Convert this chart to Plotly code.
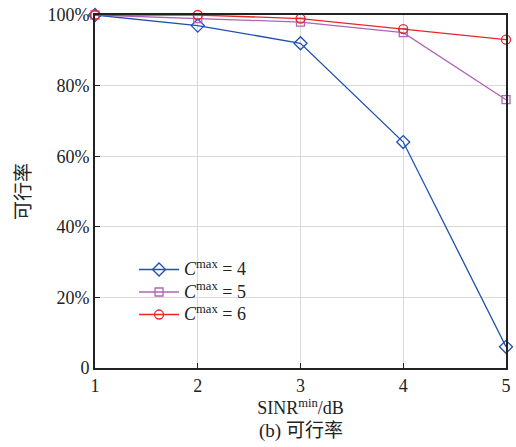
import plotly.graph_objects as go

x_vals = [1, 2, 3, 4, 5]
c4 = [100, 97, 92, 64, 6]
c5 = [100, 99, 98, 95, 76]
c6 = [100, 100, 99, 96, 93]
y_ticks = [0, 20, 40, 60, 80, 100]
y_ticktext = ["0", "20%", "40%", "60%", "80%", "100%"]
names = ["<span style='font-size:18px'><i>C</i><sup>max</sup> = 4</span>",
         "<span style='font-size:18px'><i>C</i><sup>max</sup> = 5</span>",
         "<span style='font-size:18px'><i>C</i><sup>max</sup> = 6</span>"]

serif = "Liberation Serif, Times New Roman, serif"
fig = go.Figure()
fig.add_trace(go.Scatter(x=x_vals, y=c4, name=names[0], mode="lines+markers",
                         line=dict(color="#1f4fb0", width=1.3),
                         marker=dict(symbol="diamond-open", size=10, color="#1f4fb0", line=dict(width=1.3))))
fig.add_trace(go.Scatter(x=x_vals, y=c5, name=names[1], mode="lines+markers",
                         line=dict(color="#b064b4", width=1.3),
                         marker=dict(symbol="square-open", size=8, color="#b064b4", line=dict(width=1.3))))
fig.add_trace(go.Scatter(x=x_vals, y=c6, name=names[2], mode="lines+markers",
                         line=dict(color="#e8262a", width=1.3),
                         marker=dict(symbol="circle-open", size=9, color="#e8262a", line=dict(width=1.3))))

fig.update_layout(
    width=516, height=447,
    margin=dict(l=95, r=5, t=15, b=79),
    paper_bgcolor="white", plot_bgcolor="white",
    font=dict(family=serif, size=18, color="#222"),
    showlegend=True,
    legend=dict(x=0.095, y=0.325, xanchor="left", yanchor="top",
                bgcolor="rgba(0,0,0,0)", font=dict(family=serif, size=15),
                tracegroupgap=0, itemwidth=40),
    xaxis=dict(range=[1, 5], tickvals=x_vals, showgrid=True, gridcolor="#d9d9d9",
               showline=True, linecolor="#222", linewidth=2, mirror=True,
               ticks="inside", ticklen=5, tickcolor="#222", zeroline=False,
               tickfont=dict(family=serif, size=18),
               title=dict(text="SINR<sup>min</sup>/dB", standoff=6, font=dict(family=serif, size=18))),
    yaxis=dict(range=[0, 100], tickvals=y_ticks, ticktext=y_ticktext, showgrid=True, gridcolor="#d9d9d9",
               showline=True, linecolor="#222", linewidth=2, mirror=True,
               ticks="inside", ticklen=5, tickcolor="#222", zeroline=False,
               tickfont=dict(family=serif, size=18),
               title=dict(text="可行率", standoff=12, font=dict(family="Noto Sans CJK SC", size=19))),
    annotations=[dict(text="(b) 可行率", x=0.5, xref="paper", y=-0.142, yref="paper",
                      yanchor="top", showarrow=False,
                      font=dict(family=serif + ", Noto Sans CJK SC", size=19))],
)
fig.update_traces(cliponaxis=False)
fig.write_html("out.html")
